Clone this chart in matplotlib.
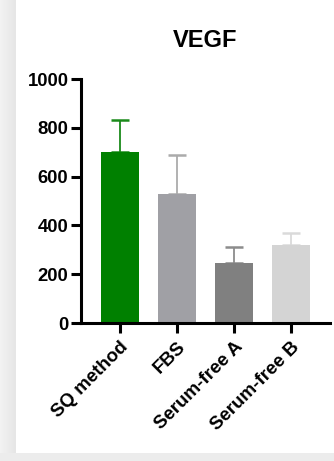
import numpy as np
import matplotlib
matplotlib.use('Agg')
import matplotlib.pyplot as plt
from matplotlib.patches import Rectangle

# VEGF secretion per culture condition
groups = ['SQ method', 'FBS', 'Serum-free A', 'Serum-free B']
means = [700, 528, 247, 320]
sd = [132, 162, 64, 49]
colors = ['#008000', '#a0a0a5', '#808080', '#d4d4d4']
err_colors = ['#1a8a1a', '#ababab', '#8c8c8c', '#dadada']

plt.rcParams['font.family'] = ['Liberation Sans', 'DejaVu Sans']
plt.rcParams['font.weight'] = 'bold'

fig = plt.figure(figsize=(3.34, 4.61), dpi=100)
fig.patch.set_facecolor('white')

# card shadow on the left and bottom edge
bg = fig.add_axes([0, 0, 1, 1], zorder=-10)
bg.set_xlim(0, 334)
bg.set_ylim(461, 0)
bg.axis('off')
grad = np.linspace(0, 1, 16)[None, :]
bg.imshow(grad, cmap=matplotlib.colors.LinearSegmentedColormap.from_list(
    'sh', ['#f2f2f2', '#e6e6e6']), extent=[0, 16, 461, 0], aspect='auto')
bg.add_patch(Rectangle((0, 453), 334, 8, color='#ececec', lw=0))

ax = fig.add_axes([81 / 334, 138 / 461, 249 / 334, 244 / 461])
x = np.arange(len(groups))
ax.bar(x, means, width=0.67, color=colors, zorder=2)
for xi, m, s, c in zip(x, means, sd, err_colors):
    ax.errorbar(xi, m, yerr=[[0], [s]], color=c, capsize=6.8,
                elinewidth=1.3, capthick=1.8, zorder=1)

ax.set_xlim(-0.68, 3.68)
ax.set_ylim(0, 1000)
ax.set_yticks([0, 200, 400, 600, 800, 1000])
ax.set_xticks(x)
ax.set_xticklabels(groups, rotation=45, ha='right', rotation_mode='anchor',
                   fontsize=13.5, fontweight='bold')
for lab in ax.get_yticklabels():
    lab.set_fontsize(13.3)
    lab.set_fontweight('bold')

for side in ['top', 'right']:
    ax.spines[side].set_visible(False)
for side in ['left', 'bottom']:
    ax.spines[side].set_linewidth(2.2)
ax.tick_params(axis='both', width=2.2, length=7, pad=2)
ax.tick_params(axis='x', pad=4)

ax.set_title('VEGF', fontsize=17, fontweight='bold', pad=23)

fig.savefig('out.png', dpi=100)
